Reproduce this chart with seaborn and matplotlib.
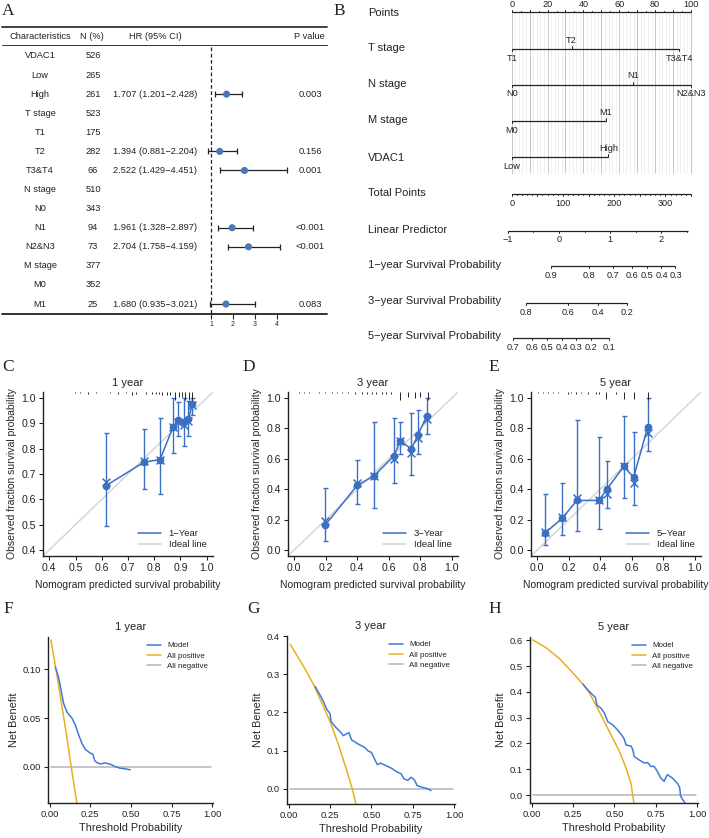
import numpy as np
import pandas as pd
import matplotlib
matplotlib.use("Agg")
import matplotlib.pyplot as plt
from matplotlib.lines import Line2D
from matplotlib.ticker import FormatStrFormatter
import seaborn as sns

# ---------------- Panel A: multivariate Cox table ----------------
char_labels = ["VDAC1", "Low", "High", "T stage", "T1", "T2", "T3&T4",
               "N stage", "N0", "N1", "N2&N3", "M stage", "M0", "M1"]
n_values = ["526", "265", "261", "523", "175", "282", "66",
            "510", "343", "94", "73", "377", "352", "25"]
nan = np.nan
hr_est = [nan, nan, 1.707, nan, nan, 1.394, 2.522, nan, nan, 1.961, 2.704, nan, nan, 1.680]
hr_low = [nan, nan, 1.201, nan, nan, 0.881, 1.429, nan, nan, 1.328, 1.758, nan, nan, 0.935]
hr_high = [nan, nan, 2.428, nan, nan, 2.204, 4.451, nan, nan, 2.897, 4.159, nan, nan, 3.021]
p_values = ["", "", "0.003", "", "", "0.156", "0.001", "", "", "<0.001", "<0.001", "", "", "0.083"]
hr_ticks = [1, 2, 3, 4]

# ---------------- Panel B: nomogram ----------------
t_levels = ["T1", "T2", "T3&T4"]
t_points = [0.0, 33.4, 93.3]
n_levels = ["N0", "N1", "N2&N3"]
n_points = [0.0, 67.8, 100.0]
m_levels = ["M0", "M1"]
m_points = [0.0, 52.4]
v_levels = ["Low", "High"]
v_points = [0.0, 53.9]
points_labels = [0, 20, 40, 60, 80, 100]
total_points_max = 350
total_points_labels = [0, 100, 200, 300]
lp_at_zero_points = -0.923
lp_per_point = 0.01
lp_range = [-1.0, 2.51]
lp_labels = [-1, 0, 1, 2]
surv1_ticks = [0.9, 0.8, 0.7, 0.6, 0.5, 0.4, 0.3]
surv3_ticks = [0.8, 0.6, 0.4, 0.2]
surv5_ticks = [0.7, 0.6, 0.5, 0.4, 0.3, 0.2, 0.1]
surv_const = {"1": 2.088, "3": 0.851, "5": 0.140}

# ---------------- Panels C-E: calibration ----------------
pred1 = [0.615, 0.761, 0.822, 0.872, 0.889, 0.914, 0.929, 0.945]
obs1 = [0.653, 0.747, 0.757, 0.886, 0.912, 0.905, 0.916, 0.975]
low1 = [0.495, 0.639, 0.622, 0.784, 0.852, 0.810, 0.852, 0.932]
up1 = [0.863, 0.876, 0.921, 1.000, 0.984, 1.000, 0.990, 1.000]
bc1 = [0.668, 0.750, 0.757, 0.884, 0.905, 0.893, 0.910, 0.972]
rug1_x = [0.498, 0.517, 0.548, 0.579, 0.630, 0.661, 0.692, 0.717, 0.730, 0.768, 0.793,
          0.805, 0.818, 0.830, 0.849, 0.862, 0.881, 0.893, 0.906, 0.918, 0.931, 0.943]
rug1_h = [0.004, 0.004, 0.006, 0.004, 0.005, 0.006, 0.005, 0.012, 0.006, 0.006, 0.008,
          0.008, 0.008, 0.010, 0.012, 0.010, 0.030, 0.020, 0.020, 0.030, 0.030, 0.035]

pred3 = [0.196, 0.400, 0.507, 0.634, 0.674, 0.743, 0.785, 0.842]
obs3 = [0.163, 0.426, 0.488, 0.620, 0.719, 0.664, 0.756, 0.884]
low3 = [0.059, 0.301, 0.279, 0.444, 0.631, 0.492, 0.631, 0.763]
up3 = [0.411, 0.593, 0.840, 0.866, 0.844, 0.899, 0.921, 1.000]
bc3 = [0.190, 0.444, 0.488, 0.600, 0.720, 0.640, 0.735, 0.860]
rug3_x = [0.027, 0.059, 0.091, 0.154, 0.196, 0.238, 0.269, 0.301, 0.343, 0.385, 0.427,
          0.459, 0.491, 0.522, 0.554, 0.585, 0.617, 0.669, 0.722, 0.764, 0.796, 0.848]
rug3_h = [0.006, 0.006, 0.006, 0.006, 0.008, 0.006, 0.008, 0.008, 0.008, 0.010, 0.010,
          0.012, 0.012, 0.012, 0.012, 0.014, 0.016, 0.050, 0.030, 0.040, 0.030, 0.055]

pred5 = [0.046, 0.157, 0.252, 0.392, 0.444, 0.549, 0.612, 0.702]
obs5 = [0.109, 0.207, 0.326, 0.326, 0.402, 0.550, 0.478, 0.811]
low5 = [0.033, 0.098, 0.124, 0.141, 0.278, 0.343, 0.298, 0.652]
up5 = [0.365, 0.441, 0.856, 0.746, 0.587, 0.880, 0.778, 1.000]
bc5 = [0.120, 0.220, 0.340, 0.326, 0.370, 0.550, 0.440, 0.770]
rug5_x = [0.004, 0.036, 0.067, 0.099, 0.130, 0.193, 0.214, 0.245, 0.277, 0.319, 0.371,
          0.392, 0.434, 0.497, 0.549, 0.612, 0.702]
rug5_h = [0.006, 0.006, 0.006, 0.006, 0.006, 0.010, 0.008, 0.010, 0.008, 0.010, 0.010,
          0.012, 0.045, 0.015, 0.045, 0.045, 0.055]

# ---------------- Panels F-H: decision curves ----------------
dca1_model_x = [0.035, 0.055, 0.086, 0.107, 0.137, 0.158, 0.178, 0.199, 0.219, 0.250,
                0.266, 0.277, 0.291, 0.311, 0.342, 0.373, 0.404, 0.434, 0.465, 0.496]
dca1_model_y = [0.102, 0.092, 0.065, 0.056, 0.050, 0.043, 0.033, 0.024, 0.018, 0.014,
                0.013, 0.0065, 0.0044, 0.003, 0.004, 0.0027, 0.0003, -0.0014, -0.002, -0.003]
dca1_all_x = [0.008, 0.04, 0.07, 0.10, 0.133, 0.17]
dca1_all_y = [0.130, 0.099, 0.068, 0.037, 0.0, -0.040]

dca3_model_x = [0.16, 0.19, 0.21, 0.23, 0.25, 0.256, 0.28, 0.31, 0.33, 0.346, 0.364, 0.38,
                0.42, 0.46, 0.48, 0.50, 0.52, 0.536, 0.556, 0.59, 0.62, 0.65, 0.68, 0.696,
                0.72, 0.74, 0.76, 0.776, 0.81, 0.84, 0.86]
dca3_model_y = [0.268, 0.245, 0.229, 0.208, 0.197, 0.176, 0.163, 0.150, 0.139, 0.143, 0.147,
                0.128, 0.117, 0.108, 0.099, 0.095, 0.077, 0.063, 0.067, 0.060, 0.054, 0.045,
                0.039, 0.026, 0.022, 0.030, 0.023, 0.008, 0.0035, 0.0, -0.005]
dca3_all_x = [0.01, 0.05, 0.10, 0.15, 0.20, 0.25, 0.30, 0.35, 0.384, 0.41]
dca3_all_y = [0.378, 0.349, 0.313, 0.273, 0.225, 0.176, 0.117, 0.049, 0.0, -0.045]

dca5_model_x = [0.31, 0.34, 0.37, 0.386, 0.394, 0.42, 0.44, 0.46, 0.49, 0.52, 0.55, 0.56,
                0.57, 0.60, 0.61, 0.62, 0.65, 0.68, 0.70, 0.72, 0.74, 0.76, 0.78, 0.80,
                0.82, 0.85, 0.88, 0.894, 0.90, 0.926]
dca5_model_y = [0.430, 0.407, 0.388, 0.378, 0.349, 0.336, 0.317, 0.284, 0.272, 0.252, 0.227,
                0.216, 0.194, 0.190, 0.178, 0.149, 0.136, 0.124, 0.126, 0.111, 0.111, 0.091,
                0.066, 0.053, 0.079, 0.066, 0.046, 0.030, -0.005, -0.031]
dca5_all_x = [0.006, 0.09, 0.17, 0.25, 0.31, 0.35, 0.41, 0.47, 0.53, 0.57, 0.60, 0.618]
dca5_all_y = [0.602, 0.570, 0.528, 0.473, 0.430, 0.395, 0.322, 0.245, 0.170, 0.105, 0.045, -0.031]
dca_neg_x = [0.01, 0.99]
dca_neg_y = [0.0, 0.0]

# ---------------- style ----------------
sns.set_theme(style="ticks")
plt.rcParams['font.family'] = ['Liberation Sans', 'DejaVu Sans']
plt.rcParams['axes.linewidth'] = 1.0
plt.rcParams['axes.edgecolor'] = '#222222'
plt.rcParams['xtick.color'] = '#222222'
plt.rcParams['ytick.color'] = '#222222'
plt.rcParams['text.color'] = '#222222'

BLUE_CAL = '#3a6fc4'
BLUE_DCA = '#3f7bd6'
GOLD = '#e8b020'
GRAY = '#b5b5b5'
IDEAL = '#d3d3d3'
DOT = '#4a78b5'

W, H = 709, 838
fig = plt.figure(figsize=(W / 100, H / 100), dpi=100)


def add_ax(x0, y0, x1, y1):
    return fig.add_axes([x0 / W, 1 - y1 / H, (x1 - x0) / W, (y1 - y0) / H])


def letter(x, y, s):
    fig.text(x / W, 1 - y / H, s, family=['Liberation Serif', 'DejaVu Serif'],
             fontsize=12.5, ha='left', va='center')


# ================= Panel A =================
axA = add_ax(0, 0, 360, 330)
row0, rstep = 56.0, 19.08


def rl(px):
    return (px - row0) / rstep


axA.set_xlim(0, 360)
axA.set_ylim(rl(330), rl(0))
axA.axis('off')
fs_tab = 6.7
for x, s in [(40, "Characteristics"), (92, "N (%)"), (155, "HR (95% CI)"), (309, "P value")]:
    axA.text(x, -1, s, ha='center', va='center', fontsize=fs_tab)
for i, c in enumerate(char_labels):
    axA.text(40, i, c, ha='center', va='center', fontsize=fs_tab)
    axA.text(93, i, n_values[i], ha='center', va='center', fontsize=fs_tab)
    if not np.isnan(hr_est[i]):
        axA.text(155, i, f"{hr_est[i]:.3f} ({hr_low[i]:.3f}\u2212{hr_high[i]:.3f})",
                 ha='center', va='center', fontsize=fs_tab)
    axA.text(310, i, p_values[i], ha='center', va='center', fontsize=fs_tab)
axA.plot([2, 327], [rl(26.7)] * 2, color='#333333', lw=1.3)
axA.plot([2, 327], [rl(45)] * 2, color='#333333', lw=0.7)
axA.plot([2, 327], [rl(314)] * 2, color='#333333', lw=1.4)

axFo = add_ax(200, 0, 299, 314)
axFo.set_facecolor('none')
rows = np.arange(len(char_labels))
hr_a = np.array(hr_est)
lo_a = np.array(hr_low)
hi_a = np.array(hr_high)
axFo.plot([1, 1], [rl(47), rl(314)], color='#222222', lw=0.9, ls=(0, (3, 2)))
axFo.errorbar(hr_a, rows, xerr=[hr_a - lo_a, hi_a - hr_a], fmt='none', ecolor='#222222',
              elinewidth=0.9, capsize=2, capthick=0.9)
sns.scatterplot(x=hr_a, y=rows, ax=axFo, color=DOT, s=26, edgecolor='none', zorder=3)
axFo.set_xlim(0.5, 5.0)
axFo.set_ylim(rl(314), rl(0))
axFo.set_xticks(hr_ticks)
axFo.set_xticklabels([str(t) for t in hr_ticks])
axFo.set_yticks([])
axFo.set_xlabel('')
axFo.set_ylabel('')
for s in ['top', 'left', 'right', 'bottom']:
    axFo.spines[s].set_visible(False)
axFo.tick_params(axis='x', length=3.5, width=0.8, labelsize=5, pad=1.5)

# ================= Panel B =================
axB = add_ax(360, 0, 709, 350)
ppx = (691 - 511.7) / 100.0
axB.set_xlim((360 - 511.7) / ppx, (709 - 511.7) / ppx)
axB.set_ylim(350, 0)
axB.axis('off')
LBLX = (368 - 511.7) / ppx
fs_row = 8.0
fs_tk = 6.6
LC = '#222222'


def seg(x0, x1, y, lw=0.9):
    axB.plot([x0, x1], [y, y], color=LC, lw=lw, solid_capstyle='butt')


def tick(x, y, ln):
    axB.plot([x, x], [y, y + ln], color=LC, lw=0.7)


# grid
for v in range(0, 101, 2):
    major = v % 10 == 0
    axB.plot([v, v], [12.3, 173], color='#c6c6c6' if major else '#e8e8e8',
             lw=0.7 if major else 0.5, zorder=0)

# Points
axB.text(LBLX, 13, "Points", fontsize=fs_row, va='center', ha='left')
seg(0, 100, 12.3)
for v in range(0, 101, 5):
    tick(v, 12.3, -2.5 if v % 10 == 0 else -1.3)
for v in points_labels:
    axB.text(v, 4.5, str(v), fontsize=fs_tk, ha='center', va='center')

# variables
variables = [("T stage", t_levels, t_points, 49.3, 48.3),
             ("N stage", n_levels, n_points, 85.0, 84.3),
             ("M stage", m_levels, m_points, 121.3, 120.0),
             ("VDAC1", v_levels, v_points, 157.3, 158.3)]
for name, levels, pts, yl, ylab in variables:
    axB.text(LBLX, ylab, name, fontsize=fs_row, va='center', ha='left')
    seg(min(pts), max(pts), yl)
    nlev = len(levels)
    for j, (lev, p) in enumerate(zip(levels, pts)):
        above = (nlev == 2 and j == 1) or (nlev > 2 and 0 < j < nlev - 1)
        if above:
            tick(p, yl, -3)
            axB.text(p, yl - 9, lev, fontsize=fs_tk, ha='center', va='center')
        else:
            tick(p, yl, 2)
            axB.text(p, yl + 9, lev, fontsize=fs_tk, ha='center', va='center')

# total points
scale_tp = 100.0 / total_points_max
axB.text(LBLX, 193.3, "Total Points", fontsize=fs_row, va='center', ha='left')
seg(0, total_points_max * scale_tp, 194)
for v in range(0, total_points_max + 1, 10):
    tick(v * scale_tp, 194, 2.5 if v % 50 == 0 else 1.5)
for v in total_points_labels:
    axB.text(v * scale_tp, 203, str(v), fontsize=fs_tk, ha='center', va='center')


def lp_to_x(lp):
    return (lp - lp_at_zero_points) / lp_per_point * scale_tp


# linear predictor
axB.text(LBLX, 230, "Linear Predictor", fontsize=fs_row, va='center', ha='left')
seg(lp_to_x(lp_range[0]), lp_to_x(lp_range[1]), 230.7)
for v in np.arange(lp_range[0], lp_range[1] + 1e-9, 0.5):
    tick(lp_to_x(v), 230.7, 2.5 if abs(v - round(v)) < 1e-9 else 1.5)
for v in lp_labels:
    axB.text(lp_to_x(v), 239.7, str(v).replace('-', '\u2212'), fontsize=fs_tk,
             ha='center', va='center')

# survival probabilities
surv_rows = [("1\u2212year Survival Probability", surv1_ticks, surv_const["1"], 265.7, 265.0),
             ("3\u2212year Survival Probability", surv3_ticks, surv_const["3"], 302.7, 301.0),
             ("5\u2212year Survival Probability", surv5_ticks, surv_const["5"], 338.0, 336.0)]
for name, tks, c, yl, ylab in surv_rows:
    axB.text(LBLX, ylab, name, fontsize=fs_row, va='center', ha='left')
    xs = [lp_to_x(np.log(-np.log(p)) + c) for p in tks]
    seg(min(xs), max(xs), yl)
    for p, xv in zip(tks, xs):
        tick(xv, yl, 2.5)
        axB.text(xv, yl + 9.5, f"{p:.1f}", fontsize=fs_tk, ha='center', va='center')

# ================= Panels C-E =================
fs_lab = 7.5
fs_tick = 7.6


def calib(box, pred, obs, low, up, bc, rx, rh, lims, ticks, title, lab):
    ax = add_ax(*box)
    pred = np.array(pred)
    obs = np.array(obs)
    ax.axline((0, 0), slope=1, color=IDEAL, lw=1.0, zorder=1)
    ax.errorbar(pred, obs, yerr=[obs - np.array(low), np.array(up) - obs], fmt='none',
                ecolor=BLUE_CAL, elinewidth=1.0, capsize=1.8, capthick=1.0, zorder=2)
    sns.lineplot(x=pred, y=obs, ax=ax, color=BLUE_CAL, marker='o', markersize=5.5,
                 markeredgewidth=0, lw=1.1, legend=False, zorder=3)
    sns.scatterplot(x=pred, y=bc, ax=ax, marker='x', s=32, color=BLUE_CAL,
                    linewidth=1.1, legend=False, zorder=4)
    ax.set_xlim(lims)
    ax.set_ylim(lims)
    ax.vlines(rx, lims[1] - np.array(rh), lims[1], color='#222222', lw=0.7)
    ax.set_xticks(ticks)
    ax.set_yticks(ticks)
    ax.xaxis.set_major_formatter(FormatStrFormatter('%.1f'))
    ax.yaxis.set_major_formatter(FormatStrFormatter('%.1f'))
    sns.despine(ax=ax)
    ax.tick_params(length=3, width=0.8, labelsize=fs_tick, pad=2)
    ax.set_xlabel("Nomogram predicted survival probability", fontsize=fs_lab, labelpad=5)
    ax.set_ylabel("Observed fraction survival probability", fontsize=fs_lab, labelpad=3)
    ax.set_title(title, fontsize=8.0, pad=4)
    ax.legend(handles=[Line2D([], [], color=BLUE_CAL, lw=1.1), Line2D([], [], color=IDEAL, lw=1.1)],
              labels=[lab, "Ideal line"], loc='lower right', frameon=False, fontsize=6.8,
              handlelength=2.4, labelspacing=0.25, borderaxespad=0.3, handletextpad=0.8)
    return ax


calib((43, 392, 213, 556), pred1, obs1, low1, up1, bc1, rug1_x, rug1_h, (0.376, 1.024),
      [0.4, 0.5, 0.6, 0.7, 0.8, 0.9, 1.0], "1 year", "1\u2212Year")
calib((288, 392, 458, 556), pred3, obs3, low3, up3, bc3, rug3_x, rug3_h, (-0.04, 1.04),
      [0.0, 0.2, 0.4, 0.6, 0.8, 1.0], "3 year", "3\u2212Year")
calib((531, 392, 701, 556), pred5, obs5, low5, up5, bc5, rug5_x, rug5_h, (-0.04, 1.04),
      [0.0, 0.2, 0.4, 0.6, 0.8, 1.0], "5 year", "5\u2212Year")

# ================= Panels F-H =================


def dca(box, mx, my, ax_, ay, ylim, yticks, yfmt, title):
    ax = add_ax(*box)
    sns.lineplot(x=dca_neg_x, y=dca_neg_y, ax=ax, color=GRAY, lw=1.1, legend=False)
    sns.lineplot(x=ax_, y=ay, ax=ax, color=GOLD, lw=1.1, legend=False)
    sns.lineplot(x=mx, y=my, ax=ax, color=BLUE_DCA, lw=1.1, legend=False)
    ax.set_xlim(-0.01, 1.005)
    ax.set_ylim(ylim)
    ax.set_xticks([0, 0.25, 0.5, 0.75, 1.0])
    ax.set_yticks(yticks)
    ax.xaxis.set_major_formatter(FormatStrFormatter('%.2f'))
    ax.yaxis.set_major_formatter(FormatStrFormatter(yfmt))
    sns.despine(ax=ax)
    ax.tick_params(length=3, width=0.8, labelsize=6.8, pad=2)
    ax.set_xlabel("Threshold Probability", fontsize=7.8, labelpad=3)
    ax.set_ylabel("Net Benefit", fontsize=7.8, labelpad=3)
    ax.set_title(title, fontsize=8.0, pad=5)
    ax.legend(handles=[Line2D([], [], color=BLUE_DCA, lw=1.1), Line2D([], [], color=GOLD, lw=1.1),
                       Line2D([], [], color=GRAY, lw=1.1)],
              labels=["Model", "All positive", "All negative"], loc='upper right',
              frameon=False, fontsize=5.7, handlelength=1.8, labelspacing=0.35,
              borderaxespad=0.2, handletextpad=0.8, bbox_to_anchor=(1.0, 1.0))
    return ax


dca((48, 637, 213, 803), dca1_model_x, dca1_model_y, dca1_all_x, dca1_all_y,
    (-0.037, 0.133), [0.0, 0.05, 0.10], '%.2f', "1 year")
dca((287, 636, 455, 804), dca3_model_x, dca3_model_y, dca3_all_x, dca3_all_y,
    (-0.04, 0.40), [0.0, 0.1, 0.2, 0.3, 0.4], '%.1f', "3 year")
dca((530, 637, 698, 803), dca5_model_x, dca5_model_y, dca5_all_x, dca5_all_y,
    (-0.031, 0.613), [0.0, 0.1, 0.2, 0.3, 0.4, 0.5, 0.6], '%.1f', "5 year")

# panel letters
letter(2, 11, "A")
letter(333, 11, "B")
letter(2, 367, "C")
letter(242, 367, "D")
letter(488, 367, "E")
letter(3, 609, "F")
letter(247, 609, "G")
letter(488, 609, "H")

fig.savefig("out.png", dpi=100)
